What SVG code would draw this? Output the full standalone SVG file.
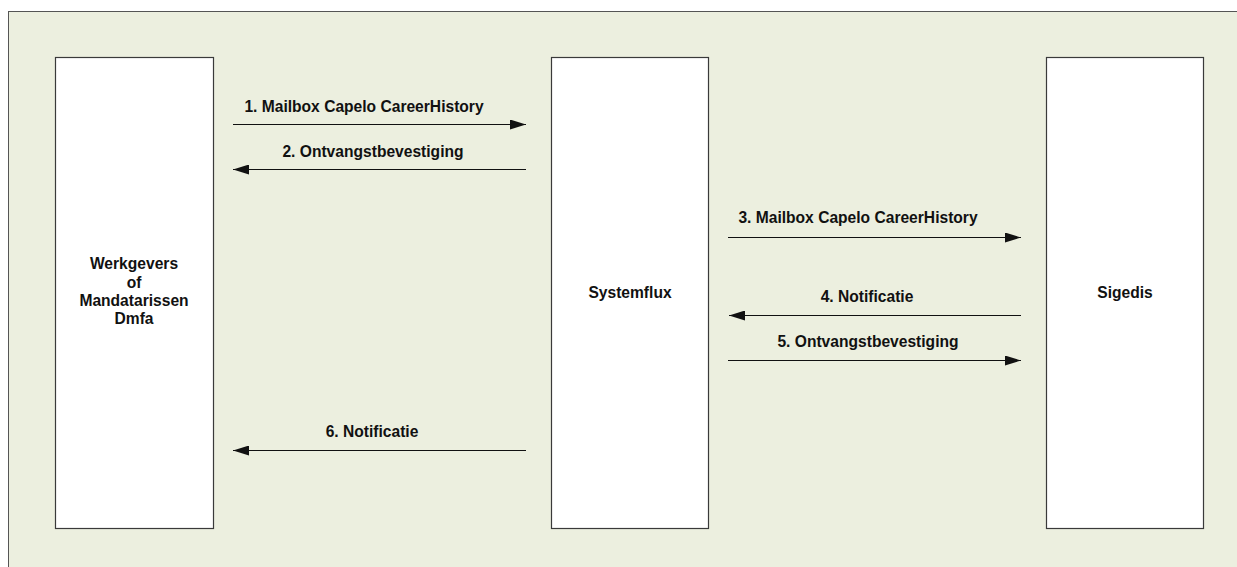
<svg xmlns="http://www.w3.org/2000/svg" width="1237" height="567" viewBox="0 0 1237 567">
<style>
.bg{fill:#ffffff}
.panel{fill:#ecefdf;stroke:#555555;stroke-width:1}
.box{fill:#ffffff;stroke:#3a3a3a;stroke-width:1.2}
.t{font-family:"Liberation Sans",Arial,sans-serif;font-weight:bold;font-size:15.6px;fill:#111111}
.m{text-anchor:middle}
.c{stroke:#111111;stroke-width:1.2;fill:none}
</style>
<defs>
<marker id="ah" viewBox="0 0 16 10" refX="16" refY="5" markerWidth="16" markerHeight="10" markerUnits="userSpaceOnUse" orient="auto">
<path d="M0,0 L16,5 L0,10 Z" fill="#111111"/>
</marker>
</defs>
<rect class="bg" x="0" y="0" width="1237" height="567"/>
<rect class="panel" x="8.5" y="11.5" width="1240" height="570"/>
<g id="node-werkgevers">
<rect class="box" x="55.5" y="57.5" width="158" height="471"/>
<text class="t m" x="134" y="269">Werkgevers</text>
<text class="t m" x="134" y="288">of</text>
<text class="t m" x="134" y="306">Mandatarissen</text>
<text class="t m" x="134" y="324">Dmfa</text>
</g>
<g id="node-systemflux">
<rect class="box" x="551.5" y="57.5" width="157" height="471"/>
<text class="t m" x="630" y="298">Systemflux</text>
</g>
<g id="node-sigedis">
<rect class="box" x="1046.5" y="57.5" width="157" height="471"/>
<text class="t m" x="1125" y="298">Sigedis</text>
</g>
<g id="connectors">
<line class="c" x1="233" y1="124.5" x2="526" y2="124.5" marker-end="url(#ah)"/>
<text class="t m" x="364" y="112">1. Mailbox Capelo CareerHistory</text>
<line class="c" x1="526" y1="169.5" x2="233" y2="169.5" marker-end="url(#ah)"/>
<text class="t m" x="373" y="157">2. Ontvangstbevestiging</text>
<line class="c" x1="728" y1="237.5" x2="1021" y2="237.5" marker-end="url(#ah)"/>
<text class="t m" x="858" y="223">3. Mailbox Capelo CareerHistory</text>
<line class="c" x1="1021" y1="315.5" x2="729" y2="315.5" marker-end="url(#ah)"/>
<text class="t m" x="867" y="302">4. Notificatie</text>
<line class="c" x1="728" y1="360.5" x2="1021" y2="360.5" marker-end="url(#ah)"/>
<text class="t m" x="868" y="347">5. Ontvangstbevestiging</text>
<line class="c" x1="526" y1="450.5" x2="233" y2="450.5" marker-end="url(#ah)"/>
<text class="t m" x="372" y="437">6. Notificatie</text>
</g>
</svg>
